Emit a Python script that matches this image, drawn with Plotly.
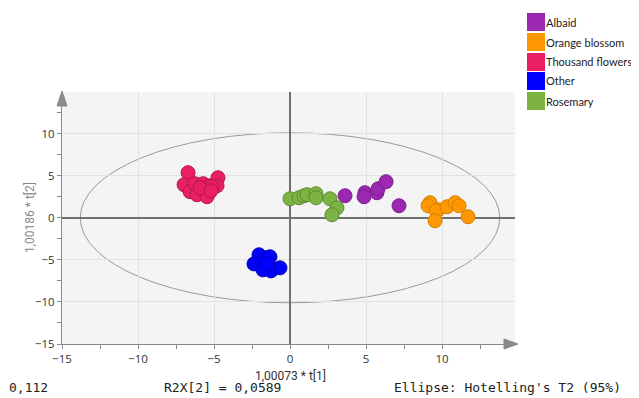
import plotly.graph_objects as go

# Data (score values)
albaid_x = [3.62, 4.93, 4.87, 5.72, 5.79, 6.32, 7.17]
albaid_y = [2.62, 2.98, 2.50, 2.98, 3.45, 4.29, 1.43]

orange_x = [9.21, 9.08, 9.74, 9.61, 10.33, 10.86, 11.12, 9.54, 11.71]
orange_y = [1.79, 1.43, 0.95, 0.83, 1.31, 1.79, 1.43, -0.36, 0.12]

thousand_x = [-6.71, -6.97, -6.58, -6.12, -6.25, -5.72, -5.33, -5.26, -4.74, -4.80, -5.13, -5.46, -5.92, -5.20]
thousand_y = [5.36, 3.93, 3.10, 2.74, 4.05, 4.05, 2.98, 3.81, 4.76, 3.81, 3.69, 2.50, 3.57, 3.21]

other_x = [-2.04, -2.37, -1.84, -1.58, -1.32, -1.64, -1.25, -0.66, -1.78, -1.45]
other_y = [-4.40, -5.48, -5.24, -4.76, -4.64, -5.83, -6.31, -5.95, -6.19, -5.48]

rosemary_x = [0.00, 0.59, 0.92, 1.12, 1.71, 1.71, 2.63, 3.09, 2.76]
rosemary_y = [2.26, 2.38, 2.62, 2.74, 2.86, 2.38, 2.26, 1.19, 0.36]

groups = [
    ("Albaid", albaid_x, albaid_y, "#9c27b0", "#7b1f8c"),
    ("Orange blossom", orange_x, orange_y, "#ff9800", "#d47e00"),
    ("Thousand flowers", thousand_x, thousand_y, "#e91e63", "#b5164c"),
    ("Other", other_x, other_y, "#0000ff", "#0000b0"),
    ("Rosemary", rosemary_x, rosemary_y, "#7cb342", "#5f8a32"),
]

ellipse_a = 13.8
ellipse_b = 10.1

# page body has an 8px offset; plot area in screen px: x 62..515, y 92..344
OFF = 8
W, H = 639 - 2 * OFF, 398 - OFF
L, R, T, B = 62, 515, 92, 344
PW, PH = R - L, B - T


def px(xs):
    return (xs - L) / PW


def py(ys):
    return (B - ys) / PH


fig = go.Figure()
for name, xs, ys, col, edge in groups:
    fig.add_trace(go.Scatter(
        x=xs, y=ys, mode="markers", name=name, showlegend=False,
        marker=dict(size=14, color=col, line=dict(color=edge, width=1)),
    ))

shapes = [
    dict(type="circle", xref="x", yref="y", x0=-ellipse_a, x1=ellipse_a,
         y0=-ellipse_b, y1=ellipse_b, line=dict(color="#9a9a9a", width=1), layer="below"),
    # axis arrow heads
    dict(type="path", xref="paper", yref="paper",
         path=f"M {px(57)} {py(106)} L {px(62)} {py(91)} L {px(67)} {py(106)} Z",
         fillcolor="#8a8a8a", line=dict(color="#8a8a8a", width=1)),
    dict(type="path", xref="paper", yref="paper",
         path=f"M {px(504)} {py(339)} L {px(518)} {py(344)} L {px(504)} {py(349)} Z",
         fillcolor="#8a8a8a", line=dict(color="#8a8a8a", width=1)),
]

annotations = []
# manual legend
leg_y_px = [22, 42, 62, 81, 101]
for (name, xs, ys, col, edge), yy in zip(groups, leg_y_px):
    shapes.append(dict(type="rect", xref="paper", yref="paper",
                       x0=px(527), x1=px(545), y0=py(yy + 9), y1=py(yy - 9),
                       fillcolor=col, line=dict(width=0)))
    annotations.append(dict(xref="paper", yref="paper", x=px(544), y=py(yy),
                            text=name, showarrow=False, xanchor="left", yanchor="middle",
                            font=dict(family="Lato", size=11, color="#222")))

annotations += [
    dict(xref="paper", yref="paper", x=px(290), y=py(376), text="1,00073 * t[1]",
         showarrow=False, xanchor="center", yanchor="middle",
         font=dict(family="Roboto", size=12, color="#333")),
    dict(xref="paper", yref="paper", x=px(30), y=py(218), text="1,00186 * t[2]",
         showarrow=False, textangle=-90, xanchor="center", yanchor="middle",
         font=dict(family="Roboto", size=12, color="#888")),
    dict(xref="paper", yref="paper", x=px(7), y=py(387), text="0,112",
         showarrow=False, xanchor="left", yanchor="middle",
         font=dict(family="DejaVu Sans Mono", size=13, color="#222")),
    dict(xref="paper", yref="paper", x=px(162), y=py(387), text="R2X[2] = 0,0589",
         showarrow=False, xanchor="left", yanchor="middle",
         font=dict(family="DejaVu Sans Mono", size=13, color="#222")),
    dict(xref="paper", yref="paper", x=px(392), y=py(387),
         text="Ellipse: Hotelling's T2 (95%)",
         showarrow=False, xanchor="left", yanchor="middle",
         font=dict(family="DejaVu Sans Mono", size=13, color="#222")),
]

axis_common = dict(
    showgrid=True, gridcolor="#e2e2e2", gridwidth=1,
    zeroline=True, zerolinecolor="#707070", zerolinewidth=2,
    showline=True, linecolor="#8a8a8a", linewidth=1,
    ticks="outside", ticklen=4, tickcolor="#8a8a8a", dtick=5,
    minor=dict(dtick=2.5, ticks="outside", ticklen=4, tickcolor="#8a8a8a", showgrid=False),
    tickfont=dict(family="Open Sans", size=11.5, color="#333"),
    fixedrange=True,
)

fig.update_layout(
    width=W, height=H,
    margin=dict(l=L - OFF, r=W - (R - OFF), t=T - OFF, b=H - (B - OFF)),
    paper_bgcolor="white", plot_bgcolor="#f4f4f4",
    xaxis=dict(range=[-15, 14.8], tick0=-15, **axis_common),
    yaxis=dict(range=[-15, 14.95], tick0=-15, **axis_common),
    shapes=shapes, annotations=annotations, showlegend=False,
)

fig.write_html("out.html")
